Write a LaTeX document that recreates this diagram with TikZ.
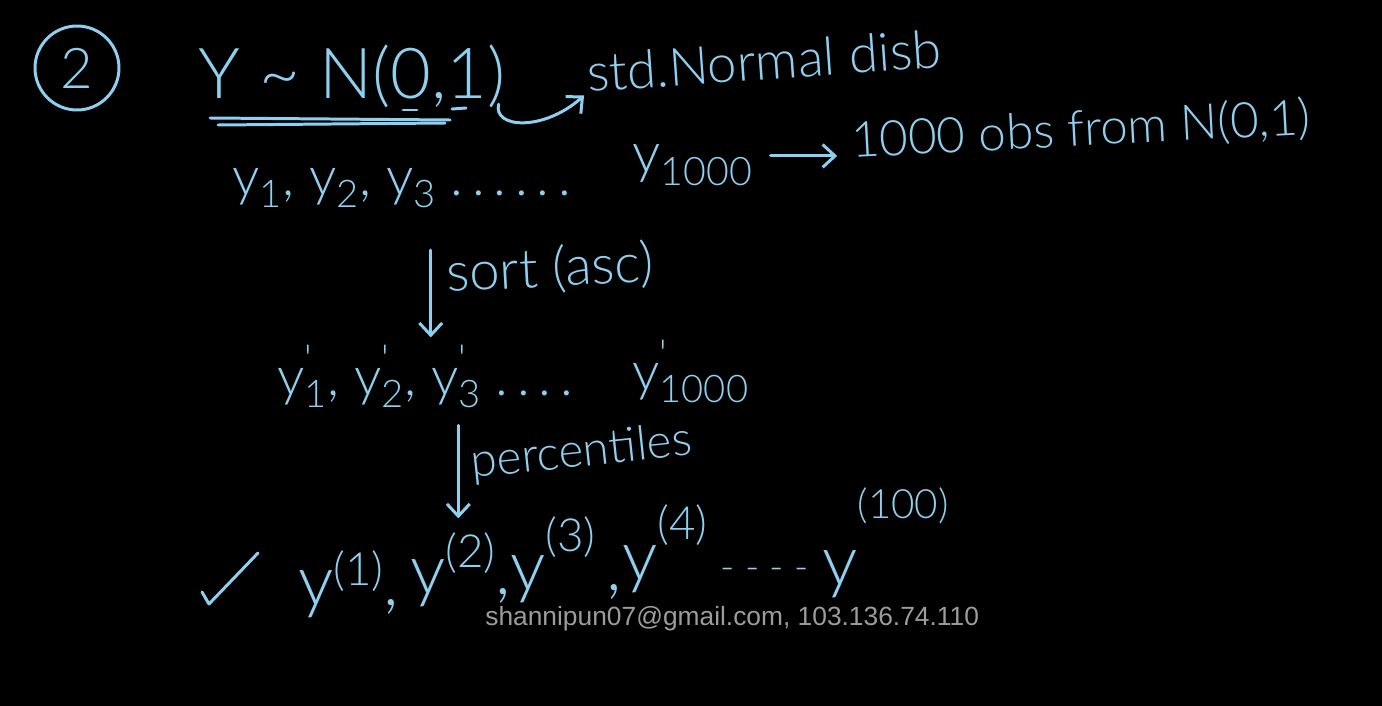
\documentclass[tikz,border=0pt]{standalone}
\usepackage{fontspec}
\newfontfamily\handfont{Lato Light}
\newfontfamily\markfont{Liberation Sans}
\usetikzlibrary{positioning,arrows.meta}
\usepackage{xcolor}
\definecolor{board}{HTML}{000000}
\definecolor{chalk}{HTML}{8FD0F0}
\definecolor{stamp}{HTML}{9C9C9C}
\tikzset{
  hand/.style={text=chalk,inner sep=0pt,font=\handfont\fontsize{#1}{#1}\selectfont},
  ink/.style={draw=chalk,line width=1.7pt,line cap=round,line join=round},
  pen arrow/.style={ink,-{Straight Barb[length=7pt,width=13pt]}}
}
\newcommand\ysub[1]{y\textsubscript{#1}}
\newcommand\yprime[1]{y\rlap{\raisebox{13pt}{\fontsize{22}{22}\selectfont'}}\textsubscript{#1}}
\newcommand\ypct[3]{y\raisebox{#2}{\fontsize{#3}{#3}\selectfont(#1)}}
\newcommand\pdots{.\hspace{5pt}.\hspace{5pt}.\hspace{5pt}.\hspace{5pt}.\hspace{5pt}.}

\begin{document}
\begin{tikzpicture}[x=0.02cm,y=-0.02cm]
  \fill[board] (0,0) rectangle (1382,706);
  \useasboundingbox (0,0) rectangle (1382,706);

  % heading
  \node[ink,hand=32,circle,minimum size=1.68cm] (num) at (77,68) {2};
  \node[hand=40,anchor=base west] (yn) at (198,98) {Y \textasciitilde\ N(0,1)};
  \draw[ink] (210,118) -- (450,120);
  \draw[ink] (218,125) -- (445,123);
  \draw[ink] (403,110) -- (417,110);
  \draw[ink] (452,109) -- (466,108);
  \node[hand=30,anchor=base west,rotate=4] (std) at (588,92) {std.Normal disb};
  \draw[pen arrow,shorten >=3pt] ([xshift=-4pt,yshift=2pt]yn.south east) .. controls +(-6,24) and +(-45,40) .. (std.base west);

  % samples
  \node[hand=31,anchor=base west] (r1) at (232,195) {\ysub{1}, \ysub{2}, \ysub{3}\hspace{8pt}\pdots};
  \node[hand=32,anchor=base west] (y1k) at (632,172) {\ysub{1000}};
  \node[hand=28,anchor=base west,rotate=3] (obs) at (852,158) {1000 obs from N(0,1)};
  \draw[pen arrow,shorten <=10pt,shorten >=8pt] ([yshift=5pt]y1k.east) -- ([yshift=5pt]y1k.east -| obs.west);

  % sorted
  \node[hand=31,anchor=base west,rotate=3] (sort) at (447,292) {sort (asc)};
  \node[hand=31,anchor=base west] (r2) at (277,395) {\yprime{1}, \yprime{2}, \yprime{3}\hspace{8pt}.\hspace{5pt}.\hspace{5pt}.\hspace{5pt}.};
  \node[hand=31,anchor=base west] (y1kp) at (632,390) {\yprime{1000}};
  \coordinate (sorttop) at ([xshift=-8pt]sort.north west);
  \draw[pen arrow,shorten >=4pt] (sorttop) -- (sorttop |- r2.north);

  % percentiles
  \node[hand=27,anchor=base west,rotate=6] (pct) at (472,478) {percentiles};
  \node[hand=40,anchor=base west] (p1) at (298,605) {\ypct{1}{11pt}{26},};
  \node[hand=40,anchor=base west] (p2) at (410,594) {\ypct{2}{15pt}{26},};
  \node[hand=40,anchor=base west] (p3) at (510,590) {\ypct{3}{22pt}{26}\hspace{6pt},};
  \node[hand=40,anchor=base west] (p4) at (622,580) {\ypct{4}{23pt}{26}};
  \node[hand=22,anchor=base west] (gap) at (720,580) {- - - -};
  \node[hand=40,anchor=base west] (p100) at (822,585) {\ypct{100}{38pt}{23}};
  \coordinate (pcttop) at ([xshift=-7pt]pct.west |- r2.south);
  \draw[pen arrow,shorten <=10pt,shorten >=8pt] (pcttop) -- (pcttop |- p2.north);
  \draw[ink] (202,592) -- (209,604) -- (258,553);

  \node[font=\markfont\fontsize{15}{15}\selectfont,text=stamp,anchor=base west,inner sep=0pt] (wm) at (485,625) {shannipun07@gmail.com, 103.136.74.110};
\end{tikzpicture}
\end{document}
